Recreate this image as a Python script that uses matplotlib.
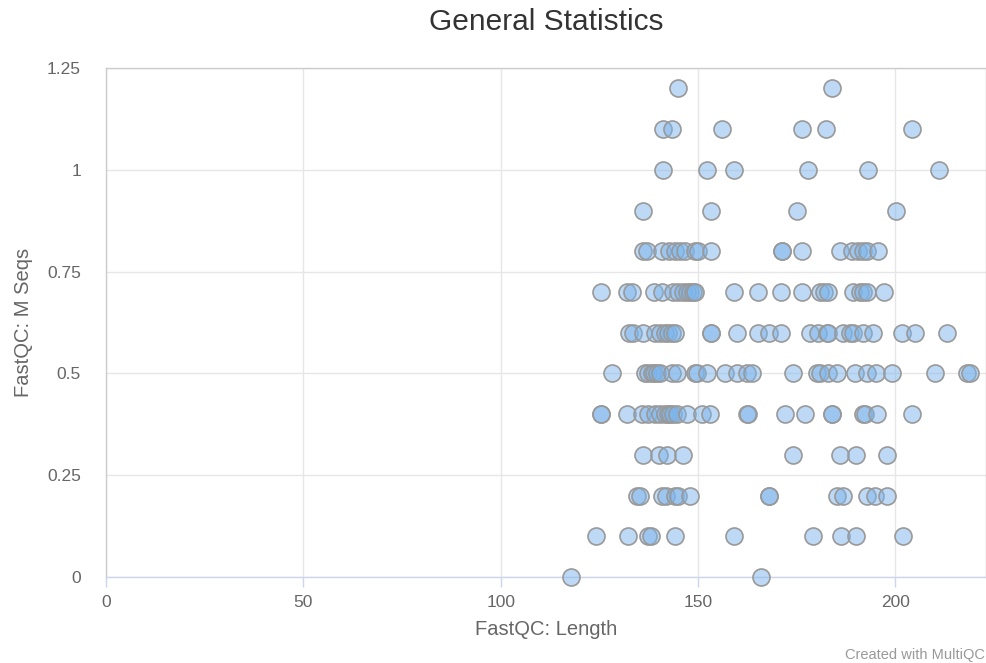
import matplotlib
matplotlib.use("Agg")
import matplotlib.pyplot as plt

plt.rcParams['font.family'] = ['Liberation Sans', 'DejaVu Sans']

# FastQC read length vs. millions of sequences, one list of lengths per M Seqs level
lengths_by_mseqs = {
    1.2: [145.0, 184.0],
    1.1: [141.0, 143.3, 156.1, 176.3, 182.3, 204.1],
    1.0: [141.2, 152.3, 159.1, 177.9, 193.0, 211.0],
    0.9: [136.1, 153.2, 175.0, 200.2],
    0.8: [136.1, 137.0, 140.8, 142.7, 144.1, 145.4, 146.7, 149.2, 150.1, 153.2,
          171.2, 171.2, 176.3, 186.0, 188.9, 190.6, 191.9, 192.7, 195.7],
    0.7: [125.3, 131.9, 133.2, 138.8, 140.8, 143.7, 145.0, 146.3, 147.1, 148.0,
          148.8, 149.2, 159.1, 165.1, 171.0, 176.3, 180.9, 181.8, 183.0, 189.2,
          191.1, 191.9, 192.7, 197.2],
    0.6: [132.6, 133.6, 136.1, 139.1, 140.3, 141.6, 142.4, 143.3, 144.2, 153.2,
          153.2, 159.9, 165.1, 168.0, 171.0, 178.4, 180.5, 182.6, 183.0, 186.8,
          188.5, 189.3, 191.9, 194.3, 201.7, 205.0, 213.0],
    0.5: [128.3, 136.6, 137.4, 138.3, 138.8, 139.5, 140.4, 143.3, 144.7, 149.2,
          149.8, 152.2, 156.8, 159.8, 162.3, 163.6, 174.1, 180.1, 180.9, 183.0,
          185.3, 189.8, 192.7, 195.1, 199.1, 210.0, 218.2, 218.9],
    0.4: [125.3, 125.3, 132.1, 135.7, 137.4, 139.1, 140.4, 141.6, 142.5, 142.9,
          143.7, 144.6, 147.1, 150.9, 153.0, 162.3, 162.7, 172.0, 177.1, 184.0,
          184.0, 191.9, 192.3, 195.3, 204.1],
    0.3: [136.0, 140.0, 142.1, 146.3, 174.1, 186.0, 190.0, 197.9],
    0.2: [134.5, 135.3, 140.8, 142.0, 144.2, 145.0, 148.0, 168.0, 168.0, 185.1,
          186.8, 192.7, 194.8, 197.9],
    0.1: [124.1, 132.2, 137.4, 138.0, 144.2, 159.1, 179.2, 186.1, 190.0, 201.8],
    0.0: [117.8, 165.9],
}

x_ticks = [0, 50, 100, 150, 200]
y_ticks = [0, 0.25, 0.5, 0.75, 1, 1.25]
y_tick_labels = ["0", "0.25", "0.5", "0.75", "1", "1.25"]

xs, ys = [], []
for m, lens in lengths_by_mseqs.items():
    xs.extend(lens)
    ys.extend([m] * len(lens))

W, H = 987, 663
fig = plt.figure(figsize=(W / 100, H / 100), dpi=100)
left, right, top, bottom = 106, 986, 68, 577
ax = fig.add_axes([left / W, 1 - bottom / H, (right - left) / W, (bottom - top) / H])

ax.set_xlim(0, (right - left) / 3.947)
ax.set_ylim(0, 1.25)

ax.scatter(xs, ys, s=150, facecolors=(124 / 255, 181 / 255, 236 / 255, 0.5),
           edgecolors='#999999', linewidths=1.2, zorder=3, clip_on=False)

ax.set_xticks(x_ticks)
ax.set_yticks(y_ticks)
ax.set_yticklabels(y_tick_labels)
ax.grid(True, color='#e6e6e6', linewidth=1.0, zorder=0)
ax.set_axisbelow(True)

for side in ('left', 'top', 'right'):
    ax.spines[side].set_color('#cccccc')
    ax.spines[side].set_linewidth(1.0)
ax.spines['bottom'].set_color('#ccd6eb')
ax.spines['bottom'].set_linewidth(1.0)

ax.tick_params(axis='x', length=7, color='#ccd6eb', width=1.0, labelsize=12.5,
               labelcolor='#666666', pad=6)
ax.tick_params(axis='y', length=0, labelsize=12.5, labelcolor='#666666', pad=18)

ax.set_xlabel("FastQC: Length", fontsize=14.5, color='#666666', labelpad=7)
ax.set_ylabel("FastQC: M Seqs", fontsize=14.5, color='#666666', labelpad=10)

fig.text((left + right) / 2 / W, 1 - 22 / H, "General Statistics", ha='center',
         va='center', fontsize=21.5, color='#333333')
fig.text(985 / W, 1 - 655 / H, "Created with MultiQC", ha='right', va='center',
         fontsize=10.5, color='#999999')

fig.savefig("out.png", dpi=100)
